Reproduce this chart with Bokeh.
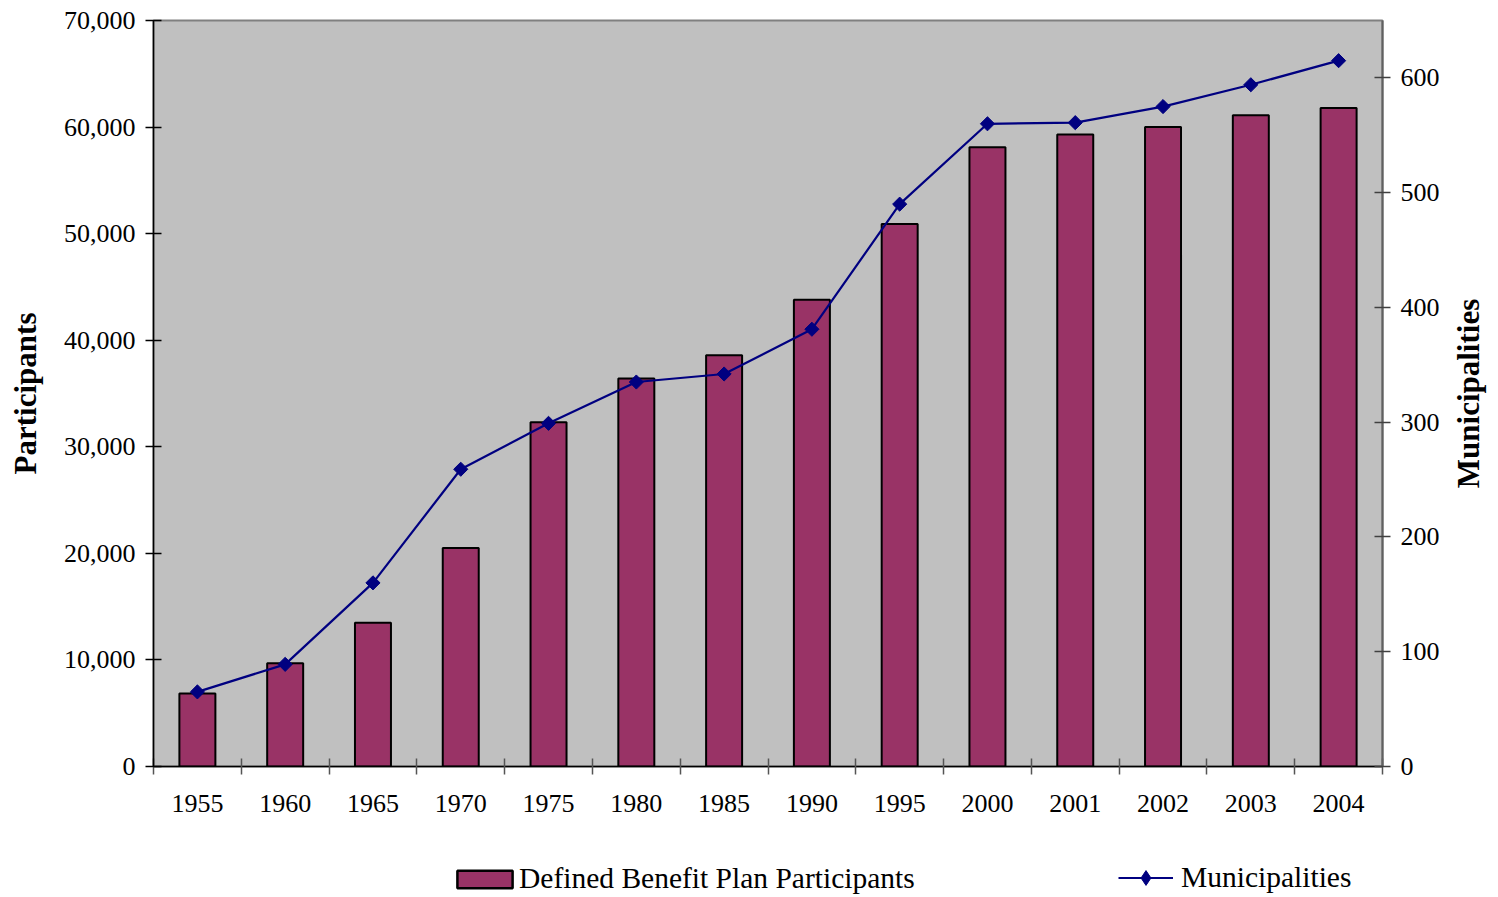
import math
from bokeh.plotting import figure
from bokeh.layouts import column, row
from bokeh.models import (Range1d, LinearAxis, FixedTicker, NumeralTickFormatter,
                          Legend, LegendItem, ColumnDataSource, Title)
from bokeh.embed import file_html
from bokeh.resources import INLINE

# Data
years = ["1955", "1960", "1965", "1970", "1975", "1980", "1985", "1990",
         "1995", "2000", "2001", "2002", "2003", "2004"]
participants = [6850, 9700, 13500, 20500, 32300, 36400, 38600, 43800,
                50900, 58100, 59300, 60000, 61100, 61800]
municipalities = [65, 89, 160, 259, 299, 335, 342, 381,
                  490, 560, 561, 575, 594, 615]

FONT = "Liberation Serif"
BAR_COLOR = "#993366"
LINE_COLOR = "#000080"
positions = list(range(1, len(years) + 1))

src = ColumnDataSource(dict(x=positions, p=participants, m=municipalities))

p = figure(width=1448, height=840, output_backend="svg", toolbar_location=None,
           x_range=Range1d(0.5, len(years) + 0.5), y_range=Range1d(0, 70000),
           min_border_left=153, min_border_right=66, min_border_top=20,
           min_border_bottom=74)
p.extra_y_ranges = {"muni": Range1d(0, 650)}

p.background_fill_color = "#c0c0c0"
p.border_fill_color = "white"
p.outline_line_color = "#808080"
p.outline_line_width = 2
p.xgrid.visible = False
p.ygrid.visible = False

p.vbar(x="x", top="p", width=0.41, source=src, fill_color=BAR_COLOR,
       line_color="black", line_width=2)
p.line(x="x", y="m", source=src, y_range_name="muni",
       line_color=LINE_COLOR, line_width=2.2)
p.scatter(x="x", y="m", source=src, y_range_name="muni", marker="square",
          angle=math.pi / 4, size=10, fill_color=LINE_COLOR, line_color=LINE_COLOR)

# Bottom axis: year labels at bar centres, tick marks between categories
xa = p.xaxis[0]
xa.ticker = FixedTicker(ticks=positions,
                        minor_ticks=[i + 0.5 for i in range(0, len(years) + 1)])
xa.major_label_overrides = {i: y for i, y in zip(positions, years)}
xa.major_tick_line_alpha = 0
xa.major_tick_in = 0
xa.major_tick_out = 8
xa.minor_tick_in = 8
xa.minor_tick_out = 8
xa.minor_tick_line_color = "#555555"
xa.minor_tick_line_width = 1.5
xa.axis_line_color = "black"
xa.axis_line_width = 1.5
xa.major_label_text_font = FONT
xa.major_label_text_font_size = "26px"
xa.major_label_text_color = "black"
xa.major_label_standoff = 20

# Left axis
ya = p.yaxis[0]
ya.ticker = FixedTicker(ticks=list(range(0, 70001, 10000)))
ya.formatter = NumeralTickFormatter(format="0,0")
ya.axis_label = "Participants"
ya.axis_label_text_font = FONT
ya.axis_label_text_font_style = "bold"
ya.axis_label_text_font_size = "31px"
ya.axis_label_text_color = "black"
ya.axis_label_standoff = 18
ya.major_label_text_font = FONT
ya.major_label_text_font_size = "26px"
ya.major_label_text_color = "black"
ya.major_label_standoff = 10
ya.major_tick_in = 8
ya.major_tick_out = 8
ya.major_tick_line_width = 1.5
ya.minor_tick_line_alpha = 0
ya.axis_line_width = 1.5

# Right axis (its title sits in the strip to the right)
ra = LinearAxis(y_range_name="muni", ticker=FixedTicker(ticks=list(range(0, 601, 100))))
ra.major_label_text_font = FONT
ra.major_label_text_font_size = "26px"
ra.major_label_text_color = "black"
ra.major_label_standoff = 10
ra.major_tick_in = 8
ra.major_tick_out = 8
ra.major_tick_line_width = 1.5
ra.major_tick_line_color = "#404040"
ra.minor_tick_line_alpha = 0
ra.axis_line_color = "#606060"
ra.axis_line_width = 2
p.add_layout(ra, "right")

# Right-hand strip holding the secondary axis title, reading bottom to top
side = figure(width=50, height=840, output_backend="svg", toolbar_location=None,
              x_range=Range1d(0, 1), y_range=Range1d(0, 1),
              min_border_left=0, min_border_right=0, min_border_top=20,
              min_border_bottom=74, x_axis_type=None, y_axis_type=None)
side.outline_line_alpha = 0
side.xgrid.visible = False
side.ygrid.visible = False
side.add_layout(Title(text="Municipalities", align="center", text_font=FONT,
                      text_font_size="31px", text_font_style="bold",
                      text_color="black", standoff=0, offset=0), "left")

# Legend strip under the chart, with swatches styled like the series
leg = figure(width=1498, height=57, output_backend="svg", toolbar_location=None,
             x_range=Range1d(0.5, len(years) + 0.5), y_range=Range1d(0, 70000),
             min_border_left=153, min_border_right=116, min_border_top=0,
             min_border_bottom=0, x_axis_type=None, y_axis_type=None)
leg.outline_line_alpha = 0
leg.xgrid.visible = False
leg.ygrid.visible = False
sw_bar = leg.vbar(x="x", top="p", width=0.41, source=src, fill_color=BAR_COLOR,
                  line_color="black", line_width=2.5, visible=False)
sw_line = leg.line(x="x", y="m", source=src, line_color=LINE_COLOR, line_width=2.2,
                   visible=False)
sw_mark = leg.scatter(x="x", y="m", source=src, marker="diamond", size=15,
                      fill_color=LINE_COLOR, line_color=LINE_COLOR, visible=False)

legend_style = dict(orientation="horizontal", padding=0, margin=0,
                    border_line_alpha=0, background_fill_alpha=0,
                    inactive_fill_alpha=0, label_text_font=FONT,
                    label_text_font_size="29.5px", label_text_color="black")

bar_legend = Legend(items=[
    LegendItem(label="Defined Benefit Plan Participants", renderers=[sw_bar])],
    location=(297, 2), glyph_width=69, glyph_height=22, label_standoff=0,
    **legend_style)
line_legend = Legend(items=[
    LegendItem(label="Municipalities", renderers=[sw_line, sw_mark])],
    location=(965, 1), glyph_width=55, glyph_height=37, label_standoff=8,
    **legend_style)
leg.add_layout(bar_legend, "center")
leg.add_layout(line_legend, "center")

layout = column(row(p, side, spacing=0), leg, spacing=0)
open("out.html", "w").write(file_html(layout, INLINE))
